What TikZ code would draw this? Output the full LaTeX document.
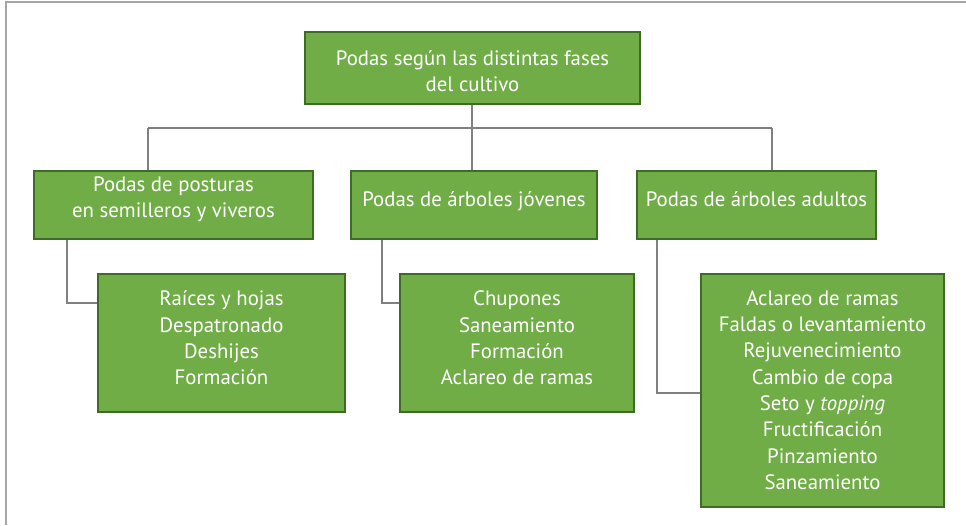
\documentclass[tikz,border=0pt]{standalone}
\usepackage{fontspec}
\setmainfont{PT Sans}
\definecolor{boxgreen}{HTML}{70AD47}
\definecolor{boxborder}{HTML}{3E6B26}
\definecolor{linegray}{HTML}{808080}
\definecolor{framegray}{HTML}{A6A6A6}
\tikzset{
  gbox/.style={draw=boxborder, fill=boxgreen, line width=1.2pt, inner sep=0pt},
  gtext/.style={text=white, align=center, inner sep=0pt,
    font=\fontsize{20.8}{26.3}\selectfont},
  conn/.style={draw=linegray, line width=1.2pt},
}
\begin{document}
\begin{tikzpicture}[x=1pt,y=-1pt]
\useasboundingbox (0,0) rectangle (966,525);
\draw[framegray, line width=1.5pt] (6,525) -- (6,2) -- (966,2);

\node[gbox, minimum width=335pt, minimum height=72pt] (top) at (472.5,68) {};
\node[gbox, minimum width=279pt, minimum height=68pt] (b1) at (173.5,205) {};
\node[gbox, minimum width=246pt, minimum height=68pt] (b2) at (474,205) {};
\node[gbox, minimum width=239pt, minimum height=68pt] (b3) at (756.5,205) {};
\node[gbox, minimum width=247pt, minimum height=138pt] (c1) at (221.5,343) {};
\node[gbox, minimum width=234pt, minimum height=138pt] (c2) at (517,343) {};
\node[gbox, minimum width=243pt, minimum height=233pt] (c3) at (822.5,390.5) {};

\node[gtext] (topt) at (472.5,71) {Podas según las distintas fases\\del cultivo};
\node[gtext] (b1t) at (173.5,199) {Podas de posturas\\en semilleros y viveros};
\node[gtext] (b2t) at (474,201) {Podas de árboles jóvenes};
\node[gtext] (b3t) at (756.5,199) {Podas de árboles adultos};
\node[gtext] (c1t) at (221.5,338) {Raíces y hojas\\Despatronado\\Deshijes\\Formación};
\node[gtext] (c2t) at (517,338) {Chupones\\Saneamiento\\Formación\\Aclareo de ramas};
\node[gtext] (c3t) at (822.5,390) {Aclareo de ramas\\Faldas o levantamiento\\Rejuvenecimiento\\Cambio de copa\\Seto y \textit{topping}\\Fructificación\\Pinzamiento\\Saneamiento};

\coordinate (h1) at (148,128);
\coordinate (h2) at (772,128);
\coordinate (v0) at (472,128);
\coordinate (k1) at (67,303);
\coordinate (k2) at (382,303);
\coordinate (k3) at (657,393);

\draw[conn] (v0 |- top.south) -- (v0 |- b2.north);
\draw[conn] (h1) -- (h2);
\draw[conn] (h1) -- (h1 |- b1.north);
\draw[conn] (h2) -- (h2 |- b3.north);
\draw[conn] (k1 |- b1.south) -- (k1) -- (k1 -| c1.west);
\draw[conn] (k2 |- b2.south) -- (k2) -- (k2 -| c2.west);
\draw[conn] (k3 |- b3.south) -- (k3) -- (k3 -| c3.west);
\end{tikzpicture}
\end{document}
